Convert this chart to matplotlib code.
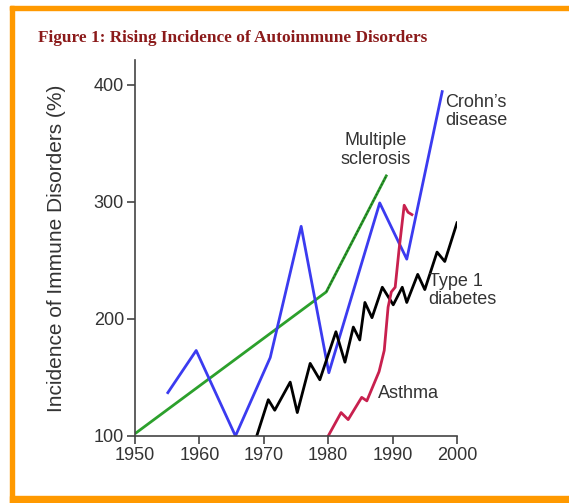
# -*- coding: utf-8 -*-
# Rising incidence of autoimmune disorders

import matplotlib
matplotlib.use('Agg')
import matplotlib.pyplot as plt
from matplotlib.patches import Rectangle

# Crohn's disease
crohn_anos = [1955.1, 1959.5, 1965.6, 1971.0, 1975.8, 1980.1, 1988.0, 1992.2, 1997.7]
crohn_val = [137, 173, 100, 167, 279, 154, 299, 251, 394]

# Multiple sclerosis
ms_anos = [1950.0, 1979.7, 1989.1]
ms_val = [102, 223, 323]

# Type 1 diabetes
dm_anos = [1968.9, 1970.7, 1971.7, 1974.1, 1975.2, 1977.2, 1978.7, 1981.2, 1982.6,
           1983.9, 1984.9, 1985.7, 1986.8, 1988.4, 1990.1, 1991.5, 1992.2, 1993.9,
           1995.0, 1996.9, 1998.1, 2000.0]
dm_val = [100, 131, 122, 146, 120, 162, 148, 189, 163, 193, 182, 214, 201, 227,
          212, 227, 214, 238, 225, 257, 249, 282]

# Asthma
asma_anos = [1980.0, 1982.0, 1983.1, 1985.2, 1986.0, 1987.9, 1988.7, 1989.3, 1989.8,
             1990.4, 1991.0, 1991.8, 1992.4, 1993.0]
asma_val = [100, 120, 114, 133, 130, 155, 173, 210, 223, 227, 259, 297, 291, 289]

x_ticks = [1950, 1960, 1970, 1980, 1990, 2000]
y_ticks = [100, 200, 300, 400]

cinza = '#333333'
plt.rcParams['font.family'] = ['Liberation Sans', 'DejaVu Sans']

fig = plt.figure(figsize=(5.69, 5.03), dpi=100)

# moldura laranja (topo, esquerda, base)
laranja = '#ff9900'
fig.patches.append(Rectangle((10 / 569, 1 - 10 / 503), 1, 4 / 503, transform=fig.transFigure,
                             color=laranja, zorder=0))
fig.patches.append(Rectangle((10 / 569, 0), 4 / 569, 1 - 6 / 503, transform=fig.transFigure,
                             color=laranja, zorder=0))
fig.patches.append(Rectangle((10 / 569, 0), 1, 7 / 503, transform=fig.transFigure,
                             color=laranja, zorder=0))

fig.text(38 / 569, 1 - 38 / 503, 'Figure 1: Rising Incidence of Autoimmune Disorders',
         family='Liberation Serif', weight='bold', color='#8b1a1a', fontsize=12.4,
         ha='left', va='center')

ax = fig.add_axes([135 / 569, 67 / 503, 322 / 569, 376 / 503])

ax.plot(ms_anos, ms_val, color='#2ca02c', lw=2.0, solid_capstyle='butt')
ax.plot(ms_anos[1:], ms_val[1:], color='#1d5e1d', lw=0.9, ls=(0, (1.5, 1.5)))
ax.plot(crohn_anos, crohn_val, color='#3b3bf0', lw=2.0)
ax.plot(dm_anos, dm_val, color='black', lw=2.0)
ax.plot(asma_anos, asma_val, color='#c8204e', lw=2.0)

ax.set_xlim(1950, 2000)
ax.set_ylim(100, 421)
ax.set_xticks(x_ticks)
ax.set_yticks(y_ticks)
ax.spines['top'].set_visible(False)
ax.spines['right'].set_visible(False)
for s in ['left', 'bottom']:
    ax.spines[s].set_color('#444444')
    ax.spines[s].set_linewidth(1.2)
ax.tick_params(direction='out', length=6, width=1.2, color='#444444',
               labelsize=13, labelcolor=cinza, pad=2)
ax.set_ylabel('Incidence of Immune Disorders (%)', fontsize=15, color=cinza)
ax.yaxis.set_label_coords(-0.215, 0.5)

rot = dict(fontsize=13, color=cinza, linespacing=1.1)
ax.text(1998.2, 392, 'Crohn\u2019s\ndisease', ha='left', va='top', **rot)
ax.text(1987.3, 329, 'Multiple\nsclerosis', ha='center', va='bottom', **rot)
ax.text(1995.6, 224, 'Type 1\ndiabetes', ha='left', va='center', **rot)
ax.text(1987.7, 136, 'Asthma', ha='left', va='center', **rot)

plt.savefig('out.png', dpi=100)
